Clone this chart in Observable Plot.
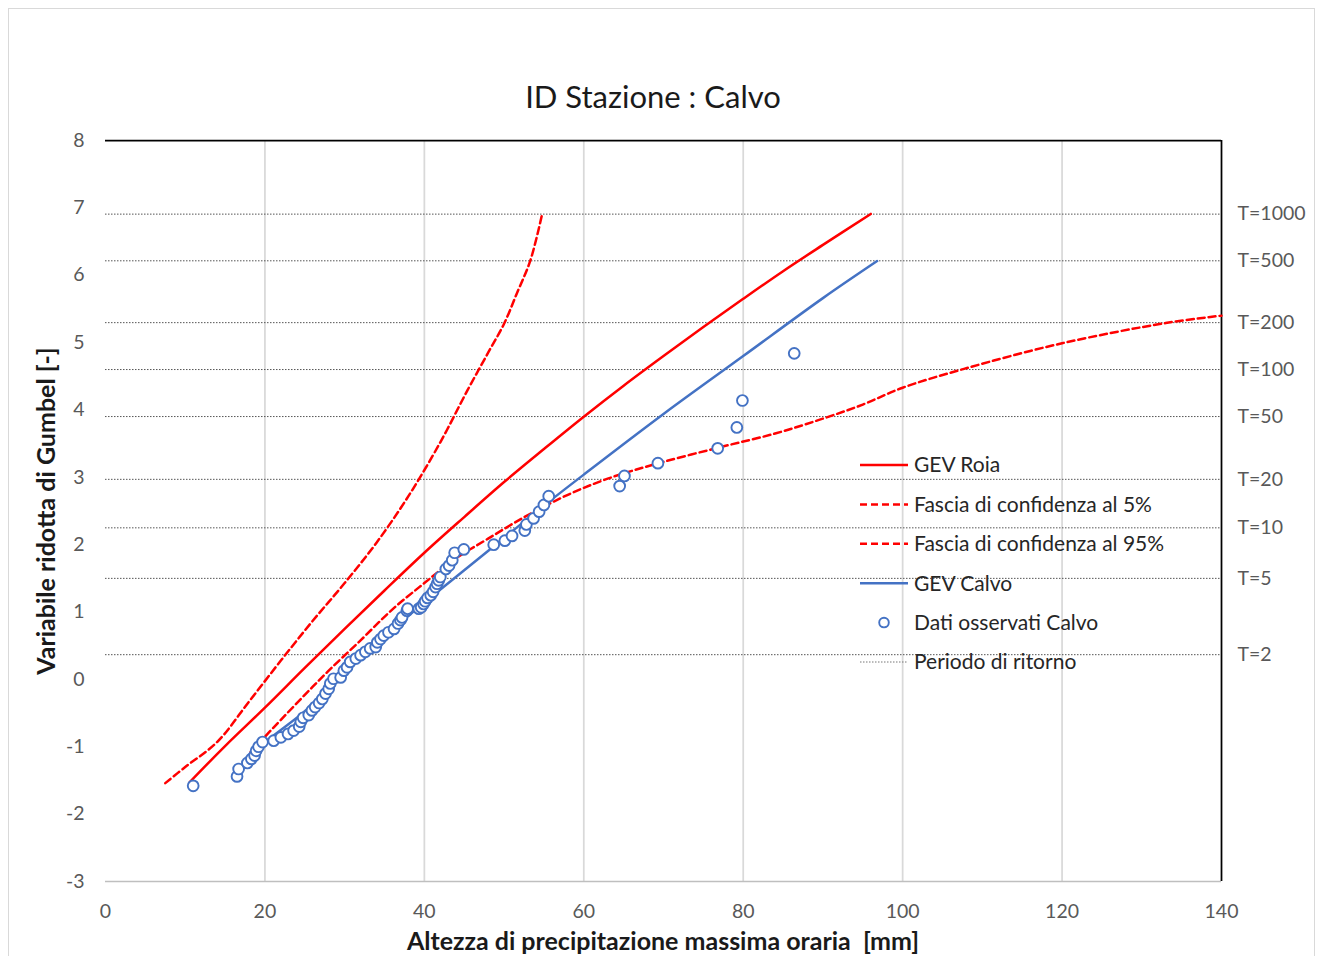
<!DOCTYPE html>
<html>
<head>
<meta charset="utf-8">
<script src="https://cdn.jsdelivr.net/npm/d3@7"></script>
<script src="https://cdn.jsdelivr.net/npm/@observablehq/plot@0.6"></script>
<style>
  body { margin: 0; background: #fff; }
  #wrap { position: relative; width: 1320px; height: 956px; overflow: hidden; font-family: Lato, "Liberation Sans", sans-serif; }
  #frame { position: absolute; left: 8px; top: 8px; width: 1307px; height: 990px; border: 1px solid #d9d9d9; box-sizing: border-box; }
  #chart { position: absolute; left: 0; top: 0; }
  #title { position: absolute; left: 0; width: 1306px; top: 96px; transform: translateY(-50%); text-align: center; font-size: 31px; color: #1a1a1a; }
  #ytitle { position: absolute; left: 45px; top: 511px; transform: translate(-50%, -50%) rotate(-90deg); white-space: nowrap; font-weight: bold; font-size: 25px; color: #1a1a1a; }
  #xtitle { position: absolute; left: 663px; top: 940px; transform: translate(-50%, -50%); white-space: nowrap; font-weight: bold; font-size: 25px; color: #1a1a1a; }
  #legend { position: absolute; left: 0; top: 0; }
</style>
</head>
<body>
<div id="wrap">
  <div id="frame"></div>
  <div id="chart"></div>
  <div id="title">ID Stazione : Calvo</div>
  <div id="ytitle">Variabile ridotta di Gumbel [-]</div>
  <div id="xtitle">Altezza di precipitazione massima oraria&nbsp;&nbsp;[mm]</div>
  <svg id="legend" width="1320" height="956"></svg>
</div>
<script>
// ---- Data ----
const xTicks = [0, 20, 40, 60, 80, 100, 120, 140];
const yTicks = [-3, -2, -1, 0, 1, 2, 3, 4, 5, 6, 7, 8];
const returnLabels = ["T=2", "T=5", "T=10", "T=20", "T=50", "T=100", "T=200", "T=500", "T=1000"];
const returnY = [0.367, 1.500, 2.250, 2.970, 3.902, 4.600, 5.296, 6.214, 6.907];

// GEV Roia
const roiaX = [10.6, 15, 20, 25, 30, 35, 40, 45, 50, 55, 60, 65, 70, 75, 80, 85, 90, 96];
const roiaY = [-1.52, -0.99, -0.42, 0.17, 0.75, 1.32, 1.88, 2.41, 2.93, 3.42, 3.90, 4.36, 4.80, 5.23, 5.65, 6.06, 6.45, 6.91];

// Fascia di confidenza al 5%
const conf5X = [7.5, 10, 14, 18, 22, 26, 30, 34, 38, 42, 45.4, 48, 50, 51.6, 53.3, 54.8];
const conf5Y = [-1.54, -1.30, -0.93, -0.33, 0.28, 0.87, 1.43, 2.03, 2.72, 3.52, 4.29, 4.85, 5.28, 5.73, 6.22, 6.92];

// Fascia di confidenza al 95%
const conf95X = [18.2, 20, 22, 25, 28, 32, 36, 40, 44, 48, 53, 58, 63, 69.4, 77.2, 84, 89.7, 95, 100, 107.7, 120, 133, 140];
const conf95Y = [-1.08, -0.85, -0.60, -0.23, 0.13, 0.58, 1.04, 1.43, 1.80, 2.09, 2.44, 2.74, 2.98, 3.21, 3.45, 3.65, 3.86, 4.08, 4.33, 4.61, 4.99, 5.29, 5.40];

// GEV Calvo
const calvoX = [18.5, 20, 22, 25, 30, 35, 40, 45, 50, 55, 60, 70, 80, 90, 96.8];
const calvoY = [-1.10, -0.93, -0.75, -0.47, 0.10, 0.64, 1.14, 1.62, 2.10, 2.58, 3.04, 3.94, 4.80, 5.66, 6.21];

// Dati osservati Calvo
const obsX = [11.0, 16.5, 16.7, 17.8, 18.3, 18.7, 18.9, 19.2, 19.7, 21.1, 22.0, 22.9, 23.6, 24.3, 24.5, 24.8, 25.5, 25.9, 26.3, 26.8, 27.2, 27.6, 28.0,
  28.2, 28.6, 29.5, 29.9, 30.3, 30.7, 31.4, 32.0, 32.6, 33.2, 33.9, 34.1, 34.5, 34.9, 35.5, 36.2, 36.7, 37.0, 37.2, 37.8, 37.9,
  39.3, 39.6, 39.9, 40.1, 40.4, 40.8, 41.1, 41.4, 41.6, 41.8, 42.0, 42.7, 43.1, 43.5, 43.8, 44.95,
  48.7, 50.1, 51.0, 52.6, 52.8, 53.7, 54.4, 55.0, 55.6, 64.5, 65.1, 69.3, 76.8, 79.2, 79.9, 86.4];
const obsY = [-1.58, -1.44, -1.33, -1.24, -1.18, -1.13, -1.06, -1.00, -0.93, -0.91, -0.86, -0.81, -0.76, -0.70, -0.63, -0.57, -0.53, -0.46, -0.41, -0.35, -0.29, -0.21, -0.14,
  -0.06, 0.01, 0.03, 0.13, 0.18, 0.26, 0.31, 0.36, 0.41, 0.46, 0.48, 0.55, 0.60, 0.65, 0.70, 0.75, 0.83, 0.88, 0.92, 1.02, 1.05,
  1.05, 1.07, 1.12, 1.16, 1.21, 1.25, 1.30, 1.37, 1.42, 1.47, 1.52, 1.64, 1.69, 1.77, 1.88, 1.93,
  2.00, 2.06, 2.13, 2.21, 2.30, 2.39, 2.49, 2.59, 2.72, 2.87, 3.02, 3.21, 3.43, 3.74, 4.14, 4.84];

const legendLabels = ["GEV Roia", "Fascia di confidenza al 5%", "Fascia di confidenza al 95%", "GEV Calvo", "Dati osservati Calvo", "Periodo di ritorno"];

const RED = "#FF0000", BLUE = "#4472C4";
const toRows = (xs, ys) => xs.map((x, i) => ({x, y: ys[i]}));
const roia = toRows(roiaX, roiaY), conf5 = toRows(conf5X, conf5Y), conf95 = toRows(conf95X, conf95Y);
const calvo = toRows(calvoX, calvoY), obs = toRows(obsX, obsY);

const FONT = "Lato, 'Liberation Sans', sans-serif";
const plot = Plot.plot({
  width: 1320, height: 956,
  marginLeft: 105, marginRight: 99, marginTop: 140, marginBottom: 75,
  x: {domain: [0, 140]},
  y: {domain: [-3, 8]},
  style: {fontFamily: FONT, background: "transparent", overflow: "visible"},
  marks: [
    Plot.ruleX(xTicks.filter(d => d > 0 && d < 140), {stroke: "#d9d9d9", strokeWidth: 1.75}),
    Plot.ruleY(returnY, {stroke: "#555", strokeWidth: 1, strokeDasharray: "1.5,1.5"}),
    Plot.ruleY([-3], {stroke: "#bfbfbf", strokeWidth: 1.5}),
    Plot.ruleY([8], {stroke: "#000", strokeWidth: 1.75}),
    Plot.ruleX([140], {stroke: "#000", strokeWidth: 1.75}),
    Plot.axisX(xTicks, {tickSize: 0, tickPadding: 23, fontSize: 19.5, fill: "#595959", label: null, tickFormat: d => String(d)}),
    Plot.axisY(yTicks, {tickSize: 0, tickPadding: 21, fontSize: 19.5, fill: "#595959", label: null, tickFormat: d => String(d)}),
    Plot.text(returnY, {x: () => 140, y: d => d, text: (d, i) => returnLabels[i], dx: 16, textAnchor: "start", fontSize: 19.5, fill: "#595959"}),
    Plot.line(conf5, {x: "x", y: "y", stroke: RED, strokeWidth: 2.5, strokeDasharray: "7,4", curve: "catmull-rom"}),
    Plot.line(conf95, {x: "x", y: "y", stroke: RED, strokeWidth: 2.5, strokeDasharray: "7,4", curve: "catmull-rom"}),
    Plot.line(roia, {x: "x", y: "y", stroke: RED, strokeWidth: 2.5, curve: "catmull-rom"}),
    Plot.line(calvo, {x: "x", y: "y", stroke: BLUE, strokeWidth: 2.5, curve: "catmull-rom"}),
    Plot.dot(obs, {x: "x", y: "y", r: 5.4, stroke: BLUE, fill: "white", strokeWidth: 1.9})
  ]
});
document.getElementById("chart").appendChild(plot);

// ---- Legend ----
const lg = d3.select("#legend");
const styles = [
  {type: "line", stroke: RED, dash: null, w: 2.5},
  {type: "line", stroke: RED, dash: "7,4", w: 2.5},
  {type: "line", stroke: RED, dash: "7,4", w: 2.5},
  {type: "line", stroke: BLUE, dash: null, w: 2.5},
  {type: "dot"},
  {type: "line", stroke: "#777", dash: "1.5,1.5", w: 1}
];
legendLabels.forEach((lab, i) => {
  const cy = 465 + i * 39.4;
  const s = styles[i];
  if (s.type === "line") {
    lg.append("line").attr("x1", 860).attr("x2", 908).attr("y1", cy).attr("y2", cy)
      .attr("stroke", s.stroke).attr("stroke-width", s.w).attr("stroke-dasharray", s.dash);
  } else {
    lg.append("circle").attr("cx", 884).attr("cy", cy).attr("r", 4.8).attr("fill", "white").attr("stroke", BLUE).attr("stroke-width", 1.9);
  }
  lg.append("text").attr("x", 914).attr("y", cy).attr("dy", "0.35em").attr("font-size", 21)
    .attr("font-family", FONT).attr("fill", "#262626").text(lab);
});
</script>
</body>
</html>
